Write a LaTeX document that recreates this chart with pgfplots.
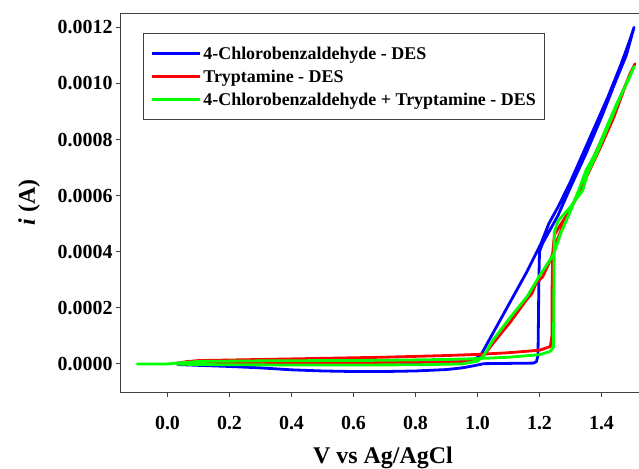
\documentclass[border=0pt]{standalone}
\usepackage{fontspec}
\setmainfont{Liberation Serif}
\usepackage{pgfplots}
\pgfplotsset{compat=1.18}
\definecolor{cvblue}{RGB}{0,0,255}
\definecolor{cvred}{RGB}{255,0,0}
\definecolor{cvgreen}{RGB}{0,255,0}
\begin{document}
\begin{tikzpicture}
\begin{axis}[
  scale only axis,
  width=523.9bp, height=378.7bp,
  xmin=-0.15, xmax=1.54,
  ymin=-0.0001, ymax=0.00125,
  xtick={0,0.2,0.4,0.6,0.8,1.0,1.2,1.4},
  ytick={0,0.0002,0.0004,0.0006,0.0008,0.0010,0.0012},
  scaled y ticks=false, scaled x ticks=false,
  xtick pos=bottom, ytick pos=left,
  tick align=outside,
  major tick length=5bp,
  axis line style={black!75, line width=1bp},
  every tick/.style={black!75, line width=1bp},
  /pgf/number format/assume math mode=true,
  tick label style={font=\fontsize{20}{24}\selectfont\bfseries},
  xticklabel style={/pgf/number format/fixed, /pgf/number format/precision=1, /pgf/number format/fixed zerofill, yshift=-16bp},
  yticklabel style={/pgf/number format/fixed, /pgf/number format/precision=4, /pgf/number format/fixed zerofill},
  label style={font=\fontsize{24}{28}\selectfont\bfseries},
  xlabel={V vs Ag/AgCl},
  xlabel style={yshift=-10bp},
  ylabel={\textit{i} (A)},
  ylabel style={yshift=11bp},
  legend style={at={(axis description cs:0.042,0.947)}, anchor=north west,
    draw=black!75, line width=1bp, font=\fontsize{18}{20}\selectfont\bfseries,
    inner xsep=7bp, inner ysep=8.5bp, row sep=0bp,
    nodes={text height=15bp, text depth=3bp, inner ysep=2.5bp},
    cells={anchor=west}},
  legend image code/.code={\draw[#1, line width=3bp] (0bp,0bp) -- (42bp,0bp); \path (0bp,0bp) -- (48bp,0bp);},
  every axis plot/.append style={line width=2.8bp, line join=round},
]
\addplot[cvblue] coordinates {
(0.03,-0.000002) (0.1,-0.000005) (0.2,-0.000009) (0.3,-0.000014) (0.4,-0.000021)
(0.5,-0.000025) (0.6,-0.000027) (0.7,-0.000027) (0.8,-0.000025) (0.9,-0.000020)
(0.95,-0.000014) (0.99,-0.000006) (1.02,0.000001) (1.1,0.000002) (1.18,0.000003)
(1.19,0.000008) (1.195,0.00003) (1.196,0.0001) (1.197,0.0002) (1.198,0.0003)
(1.2,0.0004) (1.21,0.00043) (1.23,0.00047) (1.26,0.00053) (1.3,0.00063)
(1.35,0.00075) (1.4,0.00088) (1.45,0.00102) (1.48,0.00110) (1.505,0.0012)
(1.49,0.00115) (1.46,0.00106) (1.42,0.00095) (1.38,0.00085) (1.34,0.00075)
(1.3,0.00065) (1.26,0.00056) (1.23,0.00050) (1.205,0.00043) (1.16,0.00033)
(1.1,0.00021) (1.05,0.00011) (1.01,0.00003) (0.98,0.000009) (0.9,0.000006)
(0.6,0.000005) (0.3,0.000004) (0.03,0.000002)
};
\addlegendentry{4-Chlorobenzaldehyde - DES}
\addplot[cvred] coordinates {
(0.03,0.000002) (0.06,0.000008) (0.1,0.000012) (0.2,0.000014) (0.3,0.000016)
(0.4,0.000018) (0.5,0.000020) (0.6,0.000022) (0.7,0.000024) (0.8,0.000027)
(0.9,0.000030) (1.0,0.000034) (1.1,0.000040) (1.2,0.000049) (1.235,0.000062)
(1.24,0.00010) (1.24,0.0002) (1.241,0.0003) (1.243,0.00040) (1.248,0.00046)
(1.27,0.00050) (1.3,0.00055) (1.34,0.00064) (1.37,0.00071) (1.40,0.00078)
(1.44,0.00088) (1.47,0.00097) (1.49,0.00103) (1.508,0.00107)
(1.495,0.00104) (1.46,0.00095) (1.43,0.00087) (1.40,0.00080) (1.36,0.00070)
(1.33,0.00062) (1.29,0.00053) (1.26,0.00045) (1.235,0.00037) (1.21,0.00031)
(1.19,0.00029) (1.175,0.00025) (1.159,0.00023) (1.105,0.000148) (1.052,0.000076)
(1.02,0.00003) (1.0,0.000012) (0.95,0.000008) (0.8,0.000006) (0.5,0.000004)
(0.2,0.000002) (0.03,0.000001)
};
\addlegendentry{Tryptamine - DES}
\addplot[cvgreen] coordinates {
(-0.1,0.0) (0.0,0.0) (0.03,0.000003) (0.1,0.000009) (0.3,0.000011) (0.5,0.000012)
(0.7,0.000013) (0.9,0.000016) (1.0,0.000019) (1.1,0.000024) (1.2,0.000033)
(1.235,0.000045) (1.245,0.00006) (1.246,0.0002) (1.247,0.00035) (1.248,0.00047)
(1.26,0.00051) (1.3,0.00056) (1.34,0.00062) (1.355,0.00068) (1.385,0.00075)
(1.43,0.00087) (1.46,0.00095) (1.505,0.00106)
(1.49,0.00102) (1.45,0.00093) (1.417,0.000846) (1.385,0.00076) (1.35,0.00069)
(1.33,0.00063) (1.3,0.000545) (1.27,0.00047) (1.245,0.00039) (1.2,0.000314)
(1.16,0.00024) (1.105,0.000165) (1.052,0.000088) (1.02,0.00003) (1.0,0.00001)
(0.95,0.0) (0.8,-0.000003) (0.5,-0.000004) (0.2,-0.000003) (0.03,-0.000001)
};
\addlegendentry{4-Chlorobenzaldehyde + Tryptamine - DES}
\end{axis}
\pgfresetboundingbox
\path[use as bounding box] ([xshift=-121bp,yshift=-76.3bp]current axis.south west) rectangle ([xshift=-5.9bp,yshift=13.3bp]current axis.north east);
\end{tikzpicture}
\end{document}
